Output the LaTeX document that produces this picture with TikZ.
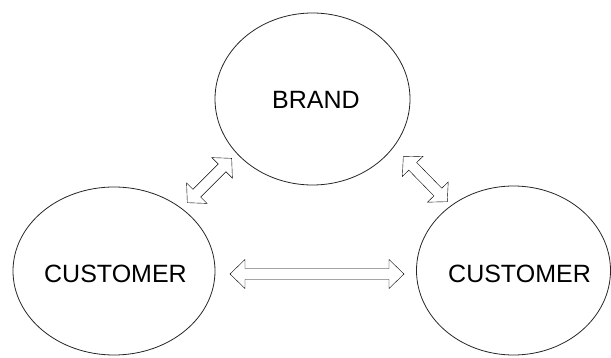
\documentclass[tikz,border=0pt]{standalone}
\usepackage{fontspec}
\setmainfont{Liberation Sans}
\usetikzlibrary{shapes.geometric,calc}
\tikzset{
  bubble/.style={draw=black!85, line width=0.8pt, ellipse, inner sep=0pt},
  lbl/.style={font=\fontsize{25}{30}\selectfont, inner sep=0pt, anchor=center},
  hollow/.style={draw=black!90, line width=1pt, line join=miter,
    to path={let \p1=(\tikztostart), \p2=(\tikztotarget),
      \n1={atan2(\y2-\y1,\x2-\x1)}, \n2={veclen(\x2-\x1,\y2-\y1)} in
      [shift={(\p1)}, rotate=\n1]
      (0pt,0pt) -- (#1,14.5pt) -- (#1,5.5pt) -- (\n2-#1,5.5pt) -- (\n2-#1,14.5pt)
      -- (\n2,0pt) -- (\n2-#1,-14.5pt) -- (\n2-#1,-5.5pt) -- (#1,-5.5pt)
      -- (#1,-14.5pt) -- cycle}},
  hollow/.default=15pt
}
\begin{document}
\begin{tikzpicture}[x=1pt,y=-1pt]
\useasboundingbox (0,0) rectangle (611,358);
% ellipses
\node[bubble, minimum width=195pt, minimum height=172pt] (brand) at (312.5,99) {};
\node[bubble, minimum width=202pt, minimum height=168pt] (custL) at (114,271) {};
\node[bubble, minimum width=194pt, minimum height=169pt] (custR) at (513.5,270.5) {};
% texts
\node[lbl] (tB) at (316,100) {BRAND};
\node[lbl] (tL) at (115.5,273.5) {CUSTOMER};
\node[lbl] (tR) at (519.5,273.5) {CUSTOMER};
% arrow endpoints
\coordinate (h1) at (230,274);
\coordinate (h2) at (404,274);
\coordinate (l1) at (187.3,202.7);
\coordinate (l2) at (231.7,158.3);
\coordinate (r1) at (403.3,156.7);
\coordinate (r2) at (447.3,201.7);
\draw (h1) to[hollow] (h2);
\draw (l1) to[hollow=13.5pt] (l2);
\draw (r1) to[hollow=13.5pt] (r2);
\end{tikzpicture}
\end{document}
